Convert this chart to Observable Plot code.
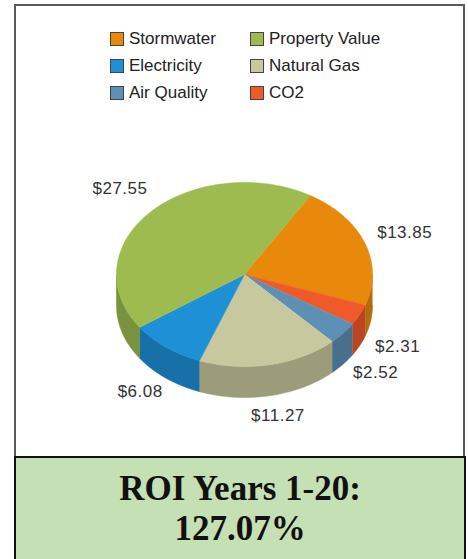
<!DOCTYPE html>
<html><head><meta charset="utf-8">
<script src="https://cdn.jsdelivr.net/npm/d3@7"></script>
<script src="https://cdn.jsdelivr.net/npm/@observablehq/plot@0.6"></script>
<style>
html,body{margin:0;padding:0;background:#fff;width:468px;height:559px;overflow:hidden}
#wrap{position:relative;width:468px;height:559px}
#frame{position:absolute;left:14px;top:4px;width:451px;height:470px;border:2px solid #5a5a5a;box-sizing:border-box}
#chart{position:absolute;left:0;top:0}
#legend{position:absolute;left:110px;top:25px;display:grid;grid-template-columns:140px 140px}
.item{display:flex;align-items:center;height:27px;font:17px "Liberation Sans",Arial,sans-serif;color:#222}
.sw{width:12px;height:12px;border:1px solid #444;margin-right:5px;flex:none}
#roi{position:absolute;left:14px;top:456px;width:452px;height:120px;background:#c5e0b4;border:2px solid #111;box-sizing:border-box;text-align:center;font:bold 35px "Liberation Serif","Times New Roman",serif;line-height:40px;padding-top:11px;color:#111}
</style>
</head><body>
<div id="wrap">
  <div id="frame"></div>
  <div id="chart"></div>
  <div id="legend"></div>
  <div id="roi"></div>
</div>
<script>
// ---- data ----
const names = ["Stormwater", "CO2", "Air Quality", "Natural Gas", "Electricity", "Property Value"];
const values = [13.85, 2.31, 2.52, 11.27, 6.08, 27.55];
const colors = ["#e8890c", "#f0592a", "#5e8fb5", "#c8c89e", "#1e90d6", "#9dbb4e"];
const legendOrder = ["Stormwater", "Property Value", "Electricity", "Natural Gas", "Air Quality", "CO2"];
const roiLines = ["ROI Years 1-20:", "127.07%"];

// ---- layout ----
const W = 468, H = 457;
const cx = 244, cy = 274, rx = 128, ry = 92, depth = 31;
const deg = Math.PI / 180;
const start = 31 * deg;

const arcs = d3.pie().sort(null).value(d => d).startAngle(start).endAngle(start + 2 * Math.PI)(values);
const pt = (t, dz = 0) => ({x: cx + rx * Math.sin(t), y: cy - ry * Math.cos(t) + dz});
function samples(a, b) {
  const n = Math.max(2, Math.ceil((b - a) / (0.5 * deg)));
  return d3.range(n + 1).map(k => a + (b - a) * k / n);
}

// top faces
const topPts = [];
arcs.forEach((a, i) => {
  const name = names[i];
  topPts.push({name, x: cx, y: cy});
  samples(a.startAngle, a.endAngle).forEach(t => topPts.push({name, ...pt(t)}));
});

// side walls (front half only)
const sideMarks = [];
arcs.forEach((a, i) => {
  const lo = Math.max(a.startAngle, Math.PI / 2), hi = Math.min(a.endAngle, 1.5 * Math.PI);
  if (hi <= lo) return;
  const ts = samples(lo, hi);
  const pts = ts.map(t => pt(t)).concat(ts.slice().reverse().map(t => pt(t, depth)));
  const c = d3.color(colors[i]).darker(0.7).formatHex();
  sideMarks.push(Plot.line(pts, {x: "x", y: "y", fill: c, stroke: c, strokeWidth: 0.6}));
});

// labels
const labelData = arcs.map((a, i) => {
  const m = (a.startAngle + a.endAngle) / 2;
  const front = Math.cos(m) < 0;
  return {
    text: "$" + values[i].toFixed(2),
    x: cx + rx * 1.33 * Math.sin(m),
    y: cy + 1 - ry * 1.39 * Math.cos(m) + (front ? 15 : 0)
  };
});

const chart = Plot.plot({
  width: W, height: H, margin: 0,
  x: {domain: [0, W], range: [0, W], axis: null},
  y: {domain: [0, H], range: [0, H], axis: null},
  color: {domain: names, range: colors},
  style: {background: "transparent", overflow: "visible"},
  marks: [
    ...sideMarks,
    Plot.line(topPts, {x: "x", y: "y", z: "name", fill: "name", stroke: "name", strokeWidth: 0.6}),
    Plot.text(labelData, {x: "x", y: "y", text: "text", fontSize: 17, fill: "#333",
      fontFamily: "'Liberation Sans', Arial, sans-serif", style: "letter-spacing:0.5px"})
  ]
});
chart.querySelectorAll("text").forEach(t => t.style.letterSpacing = "0.5px");
document.getElementById("chart").appendChild(chart);

// legend
const leg = document.getElementById("legend");
legendOrder.forEach(n => {
  const it = document.createElement("div");
  it.className = "item";
  const sw = document.createElement("span");
  sw.className = "sw";
  sw.style.background = colors[names.indexOf(n)];
  it.appendChild(sw);
  it.appendChild(document.createTextNode(n));
  leg.appendChild(it);
});

// ROI box
const roi = document.getElementById("roi");
roiLines.forEach(l => {
  const d = document.createElement("div");
  d.textContent = l;
  roi.appendChild(d);
});
</script>
</body></html>
